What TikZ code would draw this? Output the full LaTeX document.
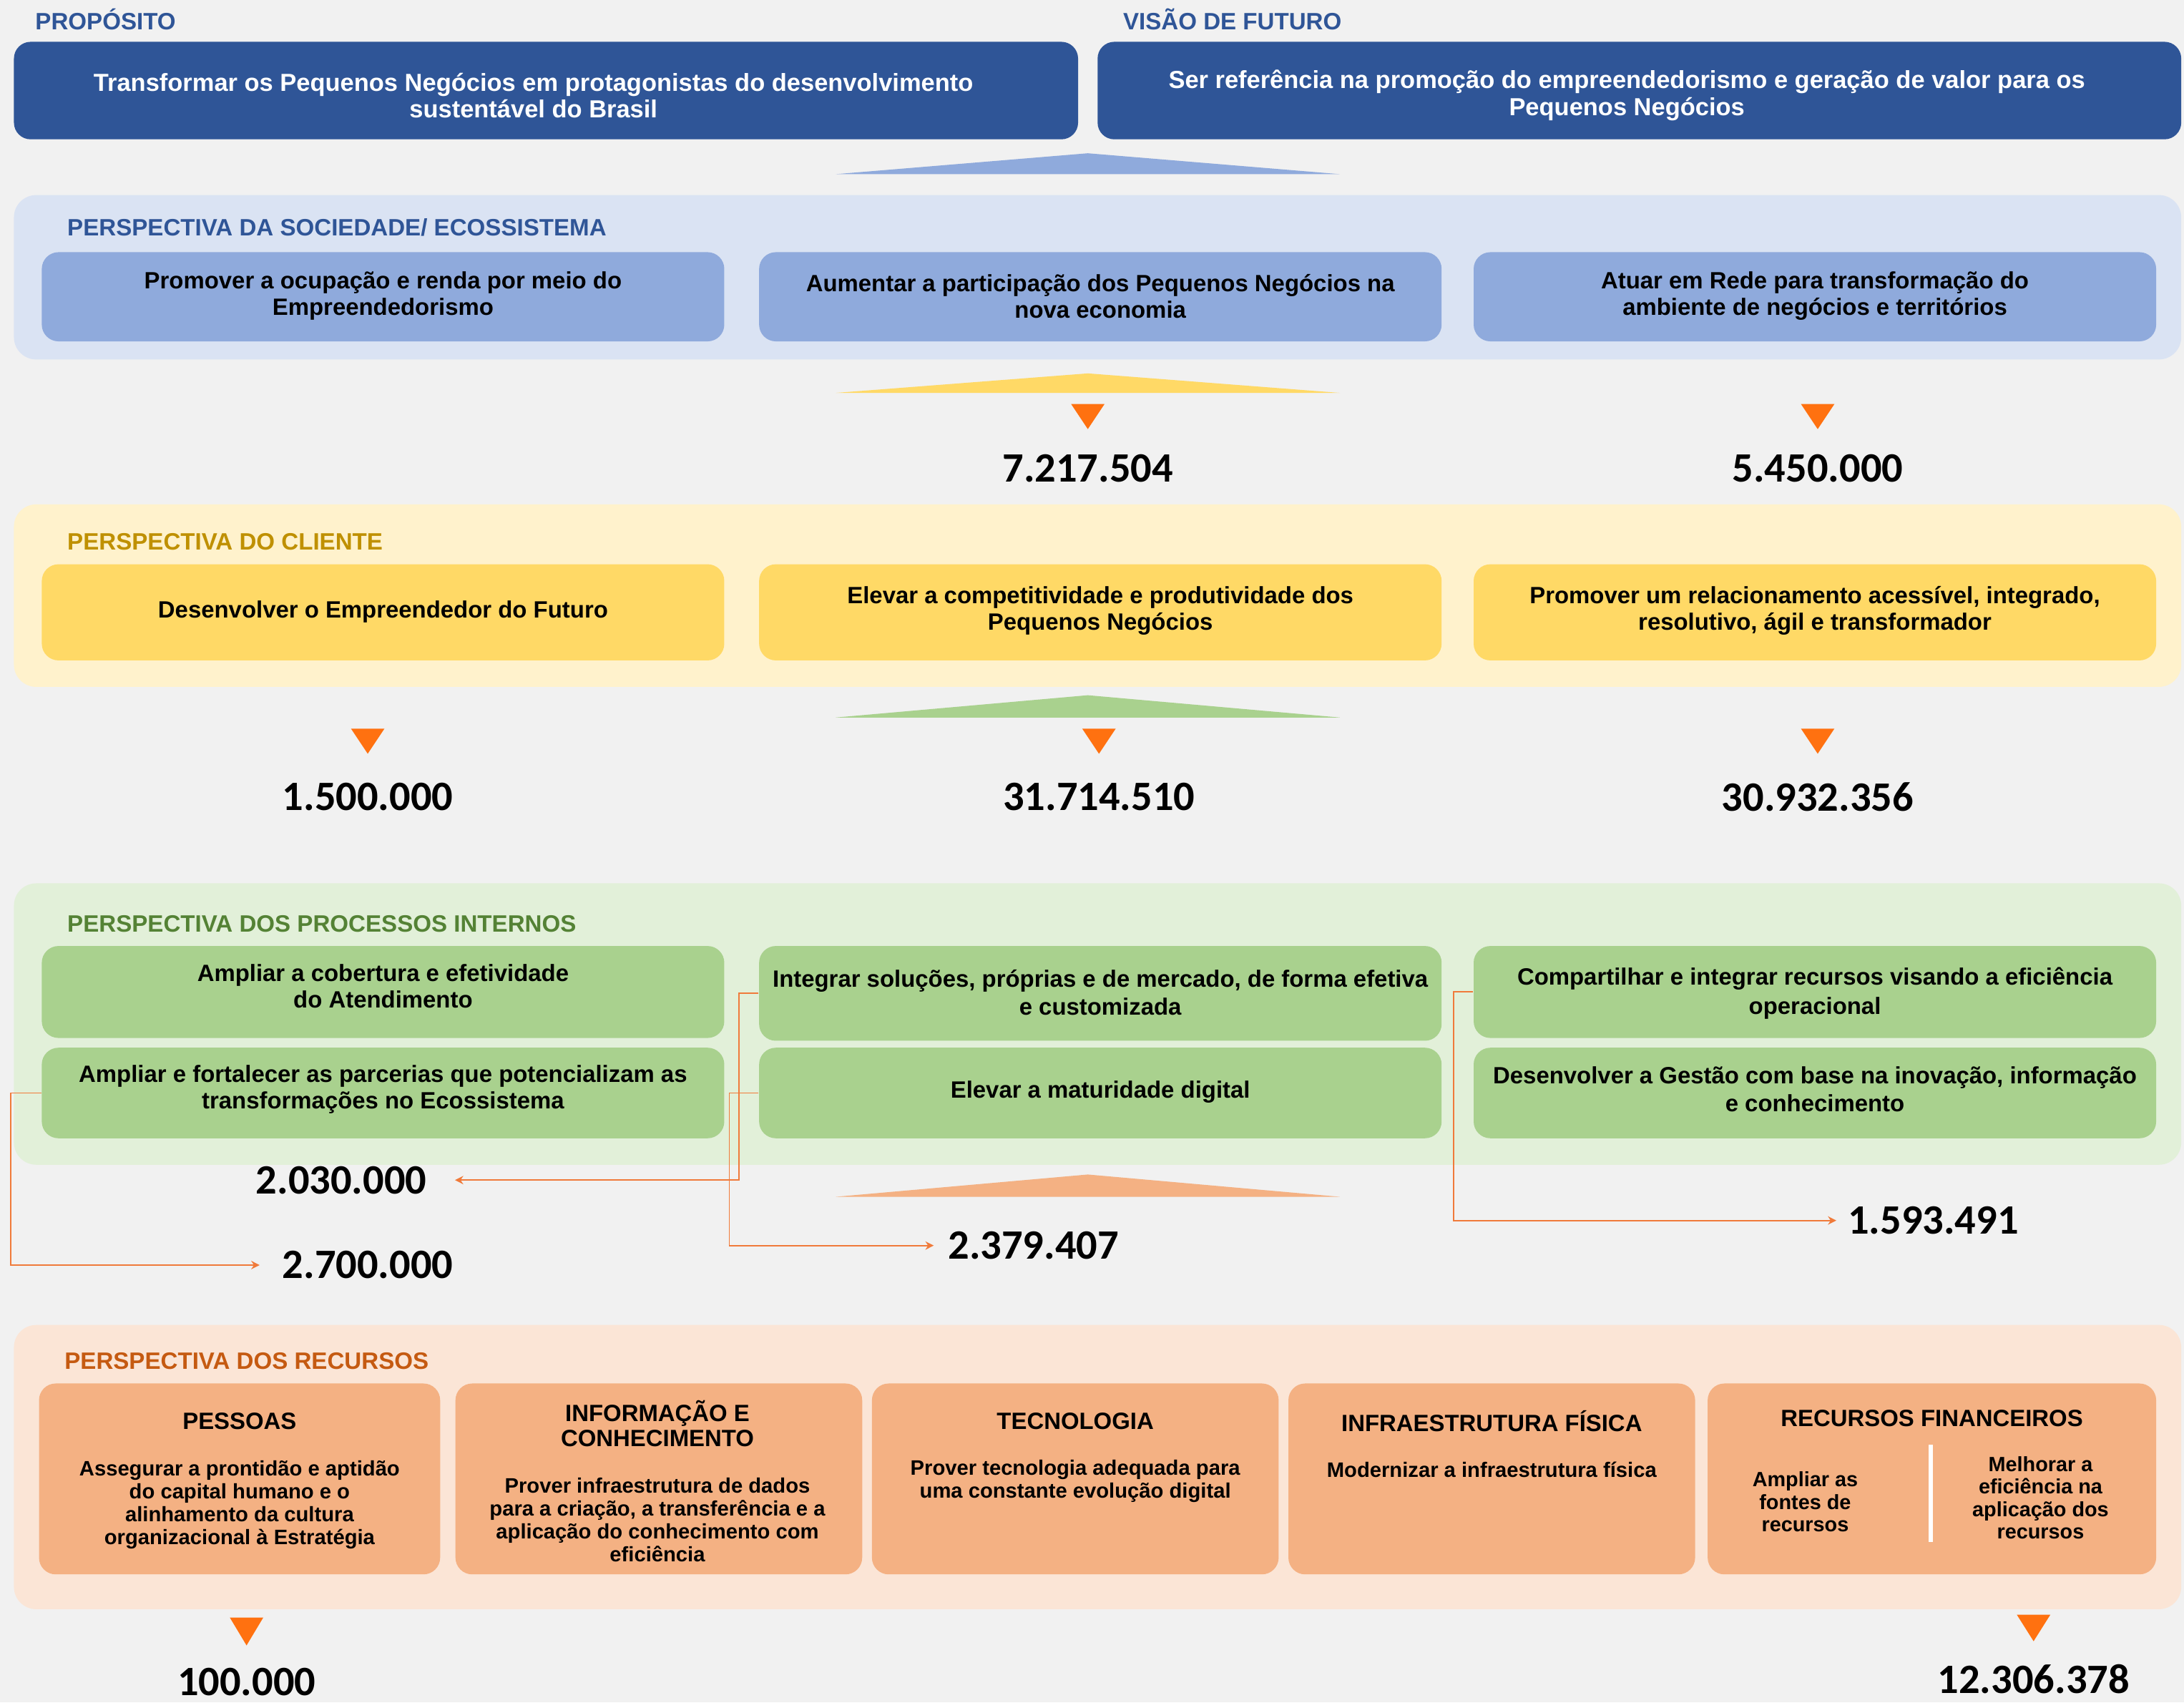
\documentclass[tikz,border=0pt]{standalone}
\usepackage{fontspec}
\setmainfont{Liberation Sans}
\newfontfamily\numfont{Carlito}
\usetikzlibrary{fit,arrows.meta}
\definecolor{bgc}{HTML}{F1F1F1}
\definecolor{dblue}{HTML}{2F5597}
\definecolor{pblue}{HTML}{DAE3F3}
\definecolor{bblue}{HTML}{8FAADC}
\definecolor{pyel}{HTML}{FFF2CC}
\definecolor{byel}{HTML}{FFD966}
\definecolor{lyel}{HTML}{BF9000}
\definecolor{pgrn}{HTML}{E2F0D9}
\definecolor{bgrn}{HTML}{A9D18E}
\definecolor{lgrn}{HTML}{548235}
\definecolor{ppch}{HTML}{FBE5D6}
\definecolor{bpch}{HTML}{F4B183}
\definecolor{lpch}{HTML}{C55A11}
\definecolor{ortri}{HTML}{FF7110}
\definecolor{orline}{HTML}{F07A3A}
\tikzset{
  lab/.style={anchor=west, inner sep=0pt, font=\bfseries\fontsize{8.5}{9.5}\selectfont},
  topbox/.style={fill=dblue, rounded corners=6pt, inner sep=0pt},
  toptext/.style={text=white, align=center, inner sep=0pt,
    font=\bfseries\fontsize{8.85}{9.6}\selectfont},
  panel/.style={rounded corners=8pt, inner sep=0pt},
  obox/.style={rounded corners=6pt, inner sep=0pt},
  otext/.style={inner sep=0pt, align=center,
    font=\bfseries\fontsize{8.45}{9.5}\selectfont},
  rtitle/.style={inner sep=0pt, align=center, font=\bfseries\fontsize{8.45}{9}\selectfont},
  rbody/.style={inner sep=0pt, align=center, font=\bfseries\fontsize{7.5}{8.25}\selectfont},
  rsub/.style={inner sep=0pt, align=center, font=\bfseries\fontsize{7.4}{8.1}\selectfont},
  num/.style={inner sep=0pt, font=\numfont\bfseries\fontsize{15}{18}\selectfont},
  conn/.style={draw=orline, line width=0.5pt, -{Stealth[length=3pt,width=3pt]}},
  dtri/.style={fill=ortri},
}
\begin{document}
\begin{tikzpicture}[x=0.5pt,y=-0.5pt]
\useasboundingbox (0,0) rectangle (1568,1222);
\fill[bgc] (0,0) rectangle (1568,1222);

% top
\node[lab, text=dblue] (lprop) at (25,14) {PROPÓSITO};
\node[lab, text=dblue] (lvis) at (806,14) {VISÃO DE FUTURO};
\node[topbox, fit={(10,30)(774,100)}] (prop) {};
\node[toptext] (propt) at ([xshift=-4.5pt,yshift=-1.75pt]prop.center) {Transformar os Pequenos Negócios em protagonistas do desenvolvimento\\sustentável do Brasil};
\node[topbox, fit={(788,30)(1566,100)}] (vis) {};
\node[toptext] (vist) at ([xshift=-4.5pt,yshift=-1.75pt]vis.center) {Ser referência na promoção do empreendedorismo e geração de valor para os\\Pequenos Negócios};
\fill[bblue] (600,125) -- (962,125) -- (781,110) -- cycle;

% sociedade
\node[panel, fill=pblue, fit={(10,140)(1566,258)}] (psoc) {};
\node[lab, text=dblue] (lsoc) at (48,163) {PERSPECTIVA DA SOCIEDADE/ ECOSSISTEMA};
\node[obox, fill=bblue, fit={(30,181)(520,245)}] (s1) {};
\node[obox, fill=bblue, fit={(545,181)(1035,245)}] (s2) {};
\node[obox, fill=bblue, fit={(1058,181)(1548,245)}] (s3) {};
\node[otext] at ([yshift=0.25pt]s1.center) {Promover a ocupação e renda por meio do\\Empreendedorismo};
\node[otext] at ([yshift=0.25pt]s2.center) {Aumentar a participação dos Pequenos Negócios na\\nova economia};
\node[otext] at ([yshift=0.25pt]s3.center) {Atuar em Rede para transformação do\\ambiente de negócios e territórios};
\fill[byel] (600,282) -- (962,282) -- (781,268) -- cycle;
\fill[dtri] (769,290) -- (793,290) -- (781,308) -- cycle;
\fill[dtri] (1293,290) -- (1317,290) -- (1305,308) -- cycle;
\node[num] (n7217) at (781,336) {7.217.504};
\node[num] (n5450) at (1305,336) {5.450.000};

% cliente
\node[panel, fill=pyel, fit={(10,362)(1566,493)}] (pcli) {};
\node[lab, text=lyel] (lcli) at (48,389) {PERSPECTIVA DO CLIENTE};
\node[obox, fill=byel, fit={(30,405)(520,474)}] (c1) {};
\node[obox, fill=byel, fit={(545,405)(1035,474)}] (c2) {};
\node[obox, fill=byel, fit={(1058,405)(1548,474)}] (c3) {};
\node[otext] at ([yshift=0.25pt]c1.center) {Desenvolver o Empreendedor do Futuro};
\node[otext] at ([yshift=0.5pt]c2.center) {Elevar a competitividade e produtividade dos\\Pequenos Negócios};
\node[otext] at ([yshift=0.5pt]c3.center) {Promover um relacionamento acessível, integrado,\\resolutivo, ágil e transformador};
\fill[bgrn] (600,515) -- (962,515) -- (781,499) -- cycle;
\fill[dtri] (252,523) -- (276,523) -- (264,541) -- cycle;
\fill[dtri] (777,523) -- (801,523) -- (789,541) -- cycle;
\fill[dtri] (1293,523) -- (1317,523) -- (1305,541) -- cycle;
\node[num] (n1500) at (264,572) {1.500.000};
\node[num] (n31714) at (789,572) {31.714.510};
\node[num] (n30932) at (1305,572) {30.932.356};

% processos
\node[panel, fill=pgrn, fit={(10,634)(1566,836)}] (ppro) {};
\node[lab, text=lgrn] (lpro) at (48,663) {PERSPECTIVA DOS PROCESSOS INTERNOS};
\node[obox, fill=bgrn, fit={(30,679)(520,745)}] (g1) {};
\node[obox, fill=bgrn, fit={(30,752)(520,817)}] (g2) {};
\node[obox, fill=bgrn, fit={(545,679)(1035,747)}] (g3) {};
\node[obox, fill=bgrn, fit={(545,752)(1035,817)}] (g4) {};
\node[obox, fill=bgrn, fit={(1058,679)(1548,745)}] (g5) {};
\node[obox, fill=bgrn, fit={(1058,752)(1548,817)}] (g6) {};
\node[otext] at ([yshift=2pt]g1.center) {Ampliar a cobertura e efetividade\\do Atendimento};
\node[otext] at ([yshift=1.25pt]g2.center) {Ampliar e fortalecer as parcerias que potencializam as\\transformações no Ecossistema};
\node[otext, font=\bfseries\fontsize{8.45}{10}\selectfont] at ([yshift=0.25pt]g3.center) {Integrar soluções, próprias e de mercado, de forma efetiva\\e customizada};
\node[otext] at ([yshift=0.25pt]g4.center) {Elevar a maturidade digital};
\node[otext, font=\bfseries\fontsize{8.45}{10.4}\selectfont] at ([yshift=-0.5pt]g5.center) {Compartilhar e integrar recursos visando a eficiência\\operacional};
\node[otext, font=\bfseries\fontsize{8.45}{10}\selectfont] at ([yshift=1.25pt]g6.center) {Desenvolver a Gestão com base na inovação, informação\\e conhecimento};
\fill[bpch] (600,859) -- (962,859) -- (781,843) -- cycle;
\node[num] (n2030) at (245,847) {2.030.000};
\node[num] (n2700) at (264,908) {2.700.000};
\node[num] (n2379) at (742,894) {2.379.407};
\node[num] (n1593) at (1388,876) {1.593.491};
\draw[conn] (g2.west) -- ++(-22,0) |- ([xshift=-8pt]n2700.west);
\draw[conn] (g3.west) -- ++(-14,0) |- ([xshift=10pt]n2030.east);
\draw[conn] (g4.west) -- ++(-21,0) |- ([xshift=-5pt]n2379.west);
\draw[conn] (g5.west) -- ++(-14,0) |- ([xshift=-4pt]n1593.west);

% recursos
\node[panel, fill=ppch, fit={(10,951)(1566,1155)}] (prec) {};
\node[lab, text=lpch] (lrec) at (46,977) {PERSPECTIVA DOS RECURSOS};
\node[obox, fill=bpch, fit={(28,993)(316,1130)}] (r1) {};
\node[obox, fill=bpch, fit={(327,993)(619,1130)}] (r2) {};
\node[obox, fill=bpch, fit={(626,993)(918,1130)}] (r3) {};
\node[obox, fill=bpch, fit={(925,993)(1217,1130)}] (r4) {};
\node[obox, fill=bpch, fit={(1226,993)(1548,1130)}] (r5) {};
\node[rtitle] (t1) at (172,1020) {PESSOAS};
\node[rbody] (b1) at (172,1080) {Assegurar a prontidão e aptidão\\do capital humano e o\\alinhamento da cultura\\organizacional à Estratégia};
\node[rtitle] (t2) at (472,1022) {INFORMAÇÃO E\\CONHECIMENTO};
\node[rbody] (b2) at (472,1091) {Prover infraestrutura de dados\\para a criação, a transferência e a\\aplicação do conhecimento com\\eficiência};
\node[rtitle] (t3) at (772,1020) {TECNOLOGIA};
\node[rbody] (b3) at (772,1063) {Prover tecnologia adequada para\\uma constante evolução digital};
\node[rtitle] (t4) at (1071,1020) {INFRAESTRUTURA FÍSICA};
\node[rbody] (b4) at (1071,1055) {Modernizar a infraestrutura física};
\node[rtitle] (t5) at (1387,1018) {RECURSOS FINANCEIROS};
\node[rsub] (b5a) at (1296,1078) {Ampliar as\\fontes de\\recursos};
\node[rsub] (b5b) at (1465,1075) {Melhorar a\\eficiência na\\aplicação dos\\recursos};
\draw[white, line width=1.5pt] (1386,1037) -- (1386,1107);
\fill[dtri] (165,1161) -- (189,1161) -- (177,1181) -- cycle;
\fill[dtri] (1448,1159) -- (1472,1159) -- (1460,1178) -- cycle;
\node[num] (n100) at (177,1207) {100.000};
\node[num] (n12306) at (1460,1205) {12.306.378};
\end{tikzpicture}
\end{document}
